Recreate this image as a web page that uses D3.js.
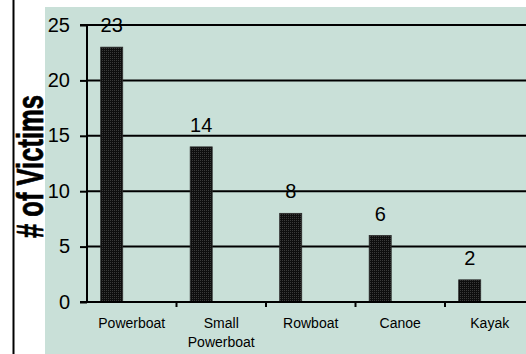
<!DOCTYPE html>
<html>
<head>
<meta charset="utf-8">
<script src="https://cdn.jsdelivr.net/npm/d3@7/dist/d3.min.js"></script>
<style>
  html, body { margin: 0; padding: 0; background: #ffffff; }
  svg { display: block; }
  text { font-family: "Liberation Sans", Arial, sans-serif; fill: #000; }
</style>
</head>
<body>
<svg id="chart" width="526" height="354"></svg>
<script>
// Boating fatalities by vessel type
const categories = ["Powerboat", "Small\nPowerboat", "Rowboat", "Canoe", "Kayak"];
const victims = [23, 14, 8, 6, 2];
const yTicks = [0, 5, 10, 15, 20, 25];
const yTitle = "# of Victims";

const svg = d3.select("#chart");
const W = 526, H = 354;

// layout
const plot = { left: 87, right: 534.5, top: 25, bottom: 302 };

const x = d3.scaleBand()
  .domain(categories)
  .range([plot.left, plot.right])
  .paddingInner(0).paddingOuter(0);

const y = d3.scaleLinear()
  .domain([0, 25])
  .range([plot.bottom, plot.top]);

// bar texture: very dark fill with a fine dot grid
const defs = svg.append("defs");
const pat = defs.append("pattern")
  .attr("id", "barFill")
  .attr("patternUnits", "userSpaceOnUse")
  .attr("width", 2).attr("height", 2);
pat.append("rect").attr("width", 2).attr("height", 2).attr("fill", "#0e0e0e");
pat.append("rect").attr("width", 1).attr("height", 1).attr("fill", "#3a3a3a");

// left rule on the page
svg.append("line")
  .attr("x1", 13.5).attr("x2", 13.5)
  .attr("y1", 0).attr("y2", H)
  .attr("stroke", "#000").attr("stroke-width", 2);

// chart panel
svg.append("rect")
  .attr("x", 45).attr("y", 7)
  .attr("width", W - 45 + 10).attr("height", H - 7 + 10)
  .attr("fill", "#c9e0d8");

// horizontal gridlines
svg.append("g")
  .selectAll("line")
  .data(yTicks.filter(d => d > 0))
  .join("line")
  .attr("x1", plot.left).attr("x2", plot.right)
  .attr("y1", d => y(d)).attr("y2", d => y(d))
  .attr("stroke", "#000").attr("stroke-width", 2);

// bars, set toward the left of each category band
const bw = x.bandwidth();
svg.append("g")
  .selectAll("rect")
  .data(categories.map((c, i) => ({ c, v: victims[i] })))
  .join("rect")
  .attr("x", d => x(d.c) + bw * 0.153)
  .attr("y", d => y(d.v))
  .attr("width", bw * 0.246)
  .attr("height", d => y(0) - y(d.v))
  .attr("fill", "url(#barFill)")
  .attr("stroke", "#2a2a2a")
  .attr("stroke-width", 0.8);

// value labels above bars
svg.append("g")
  .selectAll("text")
  .data(categories.map((c, i) => ({ c, v: victims[i] })))
  .join("text")
  .attr("x", d => x(d.c) + bw * 0.153 + bw * 0.123)
  .attr("y", d => y(d.v) - 15)
  .attr("text-anchor", "middle")
  .attr("font-size", 20)
  .text(d => d.v);

// y axis
const yAxis = d3.axisLeft(y)
  .tickValues(yTicks)
  .tickSize(7)
  .tickPadding(10)
  .tickFormat(d3.format("d"));
const gy = svg.append("g")
  .attr("transform", `translate(${plot.left},0)`)
  .call(yAxis);
gy.select(".domain").attr("stroke", "#000").attr("stroke-width", 2)
  .attr("d", `M-7,${plot.top}H0V${plot.bottom}H-7`);
gy.selectAll(".tick line").attr("stroke", "#000").attr("stroke-width", 2);
gy.selectAll(".tick text")
  .attr("font-size", 20)
  .attr("font-family", "Liberation Sans, Arial, sans-serif")
  .attr("fill", "#000")
  .attr("dy", "0.3em");

// x axis line with ticks at band edges
const gx = svg.append("g");
gx.append("line")
  .attr("x1", plot.left - 7).attr("x2", plot.right)
  .attr("y1", plot.bottom).attr("y2", plot.bottom)
  .attr("stroke", "#000").attr("stroke-width", 2);
gx.selectAll("line.tick")
  .data(categories.slice(1))
  .join("line")
  .attr("class", "tick")
  .attr("x1", d => x(d)).attr("x2", d => x(d))
  .attr("y1", plot.bottom).attr("y2", plot.bottom + 5)
  .attr("stroke", "#000").attr("stroke-width", 2);

// category labels (multi-line where needed)
const xl = gx.selectAll("text.cat")
  .data(categories)
  .join("text")
  .attr("class", "cat")
  .attr("text-anchor", "middle")
  .attr("font-size", 14)
  .attr("x", d => x(d) + bw / 2)
  .attr("y", 328);
xl.each(function(d) {
  const lines = d.split("\n");
  const t = d3.select(this);
  lines.forEach((ln, i) => {
    t.append("tspan")
      .attr("x", x(d) + bw / 2)
      .attr("dy", i === 0 ? 0 : 18.5)
      .text(ln);
  });
});

// y axis title, heavy and condensed
svg.append("text")
  .attr("transform", "translate(43,166.5) rotate(-90)")
  .attr("text-anchor", "middle")
  .attr("font-size", 36)
  .attr("font-weight", "bold")
  .attr("stroke", "#000")
  .attr("stroke-width", 0.7)
  .attr("textLength", 143)
  .attr("lengthAdjust", "spacingAndGlyphs")
  .text(yTitle);
</script>
</body>
</html>
